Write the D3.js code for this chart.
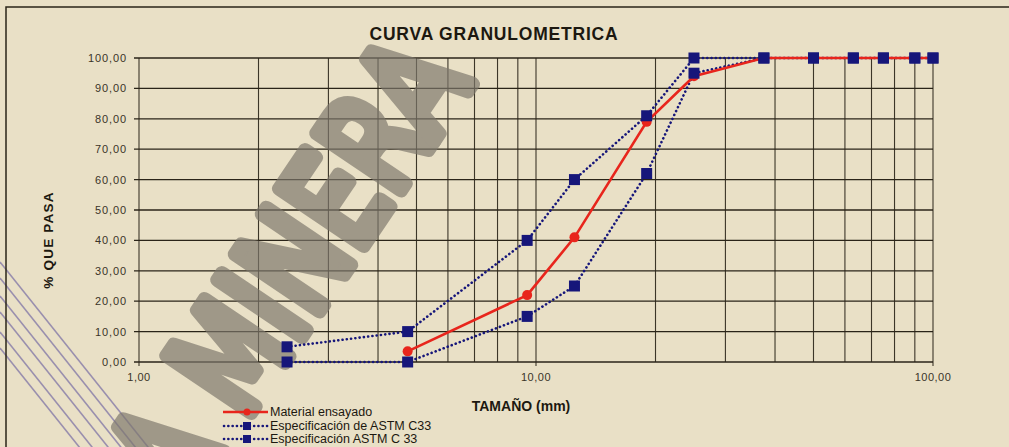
<!DOCTYPE html>
<html><head><meta charset="utf-8">
<script src="https://cdn.jsdelivr.net/npm/d3@7"></script>
<style>
html,body{margin:0;padding:0;background:#e9e0c6;}
svg{display:block;}
</style></head>
<body><svg id="c" width="1009" height="447"></svg>
<script>
const sizes = [2.36, 4.75, 9.5, 12.5, 19, 25, 37.5, 50, 63, 75, 90, 100];
const material = [null, 3.5, 22, 41, 79, 94, 100, 100, 100, 100, 100, 100];
const specUpper = [5, 10, 40, 60, 81, 100, 100, 100, 100, 100, 100, 100];
const specLower = [0, 0, 15, 25, 62, 95, 100, 100, 100, 100, 100, 100];
const yTicks = [0, 10, 20, 30, 40, 50, 60, 70, 80, 90, 100];
const xTicks = [1, 10, 100];
const seriesNames = ["Material ensayado", "Especificación de ASTM C33", "Especificación ASTM C 33"];
const title = "CURVA GRANULOMETRICA";
const xTitle = "TAMAÑO (mm)";
const yTitle = "% QUE PASA";
const watermark = "A MINERA";

const svg = d3.select("#c");
const W = 1009, H = 447;
const m = {l:139, r:933, t:58, b:362};
const x = d3.scaleLog().domain([1,100]).range([m.l, m.r]);
const y = d3.scaleLinear().domain([0,100]).range([m.b, m.t]);
const fmt = v => d3.format(".2f")(v).replace(".", ",");
const font = "'Liberation Sans', Arial, sans-serif";
const ink = "#2a2418";

svg.append("rect").attr("width", W).attr("height", H).attr("fill", "#e9e0c6");

// stamp lines (bottom-left decoration)
const stamp = svg.append("g").attr("stroke", "#7f74a6").attr("stroke-width", 1.6).attr("opacity", 0.75);
[0, 16, 34, 50, 70, 86].forEach(o => {
  stamp.append("line").attr("x1", 0).attr("y1", 262 + o).attr("x2", 200).attr("y2", 262 + o + 200 * 1.25);
});

// outer frame
svg.append("rect").attr("x", 6).attr("y", 7).attr("width", W + 20).attr("height", H + 20)
  .attr("fill", "none").attr("stroke", ink).attr("stroke-width", 1.5);

// grid
const grid = svg.append("g");
grid.selectAll("line.h").data(yTicks).join("line")
  .attr("x1", m.l - 5).attr("x2", m.r).attr("y1", d => y(d)).attr("y2", d => y(d))
  .attr("stroke", ink).attr("stroke-width", 1.3);
grid.selectAll("line.v").data(x.ticks()).join("line")
  .attr("x1", d => x(d)).attr("x2", d => x(d)).attr("y1", m.t).attr("y2", d => m.b + (xTicks.includes(d) ? 4 : 0))
  .attr("stroke", ink).attr("stroke-width", 1.1).attr("opacity", 0.9);

// axes labels
svg.append("g").selectAll("text").data(yTicks).join("text")
  .attr("x", m.l - 12).attr("y", d => y(d) + 4).attr("text-anchor", "end")
  .attr("font-family", font).attr("font-size", 11).attr("letter-spacing", 0.9)
  .attr("fill", "#3a3428").text(fmt);
svg.append("g").selectAll("text").data(xTicks).join("text")
  .attr("x", d => x(d)).attr("y", m.b + 19).attr("text-anchor", "middle")
  .attr("font-family", font).attr("font-size", 11).attr("letter-spacing", 0.5)
  .attr("fill", "#3a3428").text(fmt);

// watermark
svg.append("text").attr("transform", "translate(329,296) rotate(-56) scale(0.92,1.2)").attr("text-anchor", "middle")
  .attr("font-family", "'DejaVu Sans', sans-serif").attr("font-size", 115)
  .attr("fill", "#7d776c").attr("opacity", 0.68)
  .attr("stroke", "#7d776c").attr("stroke-width", 13).attr("stroke-linejoin", "round").attr("stroke-linecap", "round")
  .text(watermark);

// titles
svg.append("text").attr("x", 494).attr("y", 40).attr("text-anchor", "middle")
  .attr("font-family", font).attr("font-weight", "bold").attr("font-size", 17.5).attr("fill", "#1c1810")
  .attr("letter-spacing", 0.8).text(title);
svg.append("text").attr("x", 521).attr("y", 411).attr("text-anchor", "middle")
  .attr("font-family", font).attr("font-weight", "bold").attr("font-size", 14).attr("fill", "#1c1810")
  .text(xTitle);
svg.append("text").attr("transform", "translate(53,240) rotate(-90)").attr("text-anchor", "middle")
  .attr("font-family", font).attr("font-weight", "bold").attr("font-size", 13.5).attr("fill", "#1c1810")
  .attr("letter-spacing", 1.2).text(yTitle);

// series
const navy = "#16167a", red = "#e8251c";
function pts(vals){ return sizes.map((s,i)=>({s, v: vals[i]})).filter(p => p.v !== null); }
const line = d3.line().x(p => x(p.s)).y(p => y(p.v));

[specLower, specUpper].forEach(vals => {
  const p = pts(vals);
  svg.append("path").attr("d", line(p)).attr("fill", "none").attr("stroke", navy)
    .attr("stroke-width", 2.6).attr("stroke-dasharray", "0.1,4.2").attr("stroke-linecap", "round");
});
const pm = pts(material);
svg.append("path").attr("d", line(pm)).attr("fill", "none").attr("stroke", red).attr("stroke-width", 2.6);
svg.append("g").selectAll("circle").data(pm).join("circle")
  .attr("cx", p => x(p.s)).attr("cy", p => y(p.v)).attr("r", 5).attr("fill", red);
[specLower, specUpper].forEach(vals => {
  svg.append("g").selectAll("rect").data(pts(vals)).join("rect")
    .attr("x", p => x(p.s) - 5.5).attr("y", p => y(p.v) - 5.5).attr("width", 11).attr("height", 11)
    .attr("fill", navy);
});

// legend
const lg = svg.append("g");
const rows = [412, 426, 439];
seriesNames.forEach((n, i) => {
  const yy = rows[i];
  const g = lg.append("g");
  if (i === 0) {
    g.append("line").attr("x1", 223).attr("x2", 268).attr("y1", yy).attr("y2", yy)
      .attr("stroke", red).attr("stroke-width", 2.6);
    g.append("circle").attr("cx", 247).attr("cy", yy).attr("r", 3.5).attr("fill", red);
  } else {
    g.append("line").attr("x1", 224).attr("x2", 268).attr("y1", yy).attr("y2", yy)
      .attr("stroke", navy).attr("stroke-width", 2.6).attr("stroke-dasharray", "0.1,4.2").attr("stroke-linecap", "round");
    g.append("rect").attr("x", 243).attr("y", yy - 4).attr("width", 8).attr("height", 8).attr("fill", navy);
  }
  g.append("text").attr("x", 270).attr("y", yy + 4.3).attr("font-family", font).attr("font-size", 12.5)
    .attr("fill", "#1c1810").text(n);
});
</script></body></html>
